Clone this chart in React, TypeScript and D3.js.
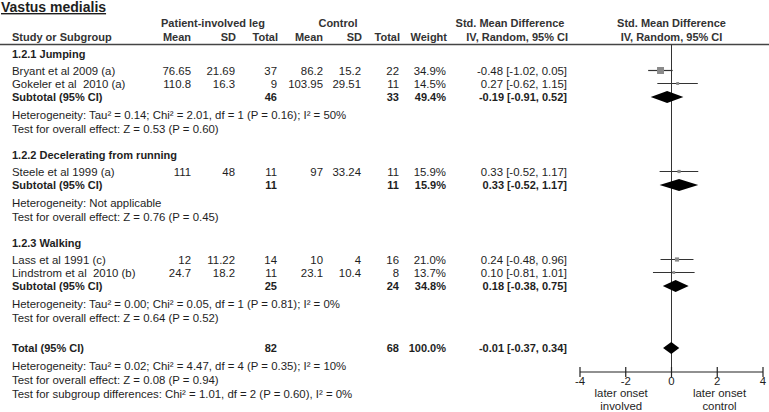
import React from "react";
import * as d3 from "d3";

// ---- data ----
const groupLabels = ["1.2.1 Jumping", "1.2.2 Decelerating from running", "1.2.3 Walking"];

const studyNames = [
  "Bryant et al 2009 (a)",
  "Gokeler et al  2010 (a)",
  "Steele et al 1999 (a)",
  "Lass et al 1991 (c)",
  "Lindstrom et al  2010 (b)",
];
const studyGroup = [0, 0, 1, 2, 2];
const invMean = [76.65, 110.8, 111, 12, 24.7];
const invSd = [21.69, 16.3, 48, 11.22, 18.2];
const invN = [37, 9, 11, 14, 11];
const ctlMean = [86.2, 103.95, 97, 10, 23.1];
const ctlSd = [15.2, 29.51, 33.24, 4, 10.4];
const ctlN = [22, 11, 11, 16, 8];
const studyWeight = [34.9, 14.5, 15.9, 21.0, 13.7];
const studySmd = [-0.48, 0.27, 0.33, 0.24, 0.1];
const studyLo = [-1.02, -0.62, -0.52, -0.48, -0.81];
const studyHi = [0.05, 1.15, 1.17, 0.96, 1.01];

const subInvN = [46, 11, 25];
const subCtlN = [33, 11, 24];
const subWeight = [49.4, 15.9, 34.8];
const subSmd = [-0.19, 0.33, 0.18];
const subLo = [-0.91, -0.52, -0.38];
const subHi = [0.52, 1.17, 0.75];
const subHet = [
  "Heterogeneity: Tau\u00b2 = 0.14; Chi\u00b2 = 2.01, df = 1 (P = 0.16); I\u00b2 = 50%",
  "Heterogeneity: Not applicable",
  "Heterogeneity: Tau\u00b2 = 0.00; Chi\u00b2 = 0.05, df = 1 (P = 0.81); I\u00b2 = 0%",
];
const subTest = [
  "Test for overall effect: Z = 0.53 (P = 0.60)",
  "Test for overall effect: Z = 0.76 (P = 0.45)",
  "Test for overall effect: Z = 0.64 (P = 0.52)",
];

const totalInvN = 82;
const totalCtlN = 68;
const totalWeight = 100.0;
const totalSmd = -0.01;
const totalLo = -0.37;
const totalHi = 0.34;
const totalNotes = [
  "Heterogeneity: Tau\u00b2 = 0.02; Chi\u00b2 = 4.47, df = 4 (P = 0.35); I\u00b2 = 10%",
  "Test for overall effect: Z = 0.08 (P = 0.94)",
  "Test for subgroup differences: Chi\u00b2 = 1.01, df = 2 (P = 0.60), I\u00b2 = 0%",
];

const axisTicks = [-4, -2, 0, 2, 4];
const favourLeft = ["later onset", "involved"];
const favourRight = ["later onset", "control"];

// ---- layout ----
const W = 769;
const H = 412;
const FONT = "'Liberation Sans', Arial, sans-serif";
const TXT = "#1e1e1e";

const x = d3.scaleLinear().domain([-4, 4]).range([580, 763]);
const boxSize = d3.scaleLinear().domain([0, 100]).range([0, 20]);
// RevMan prints a plain hyphen, not the unicode minus
const loc = d3.formatLocale({ decimal: ".", thousands: ",", grouping: [3], currency: ["", ""], minus: "-" });
const f2 = loc.format(".2f");
const f1 = loc.format(".1f");
const ci = (m: number, l: number, h: number) => `${f2(m)} [${f2(l)}, ${f2(h)}]`;

// gap (px) before each row kind
const gapBefore: Record<string, number> = {
  group: 26, study: 13, firstStudy: 17, subtotal: 13, het: 18, test: 14, total: 30, note: 14,
};

type Row = { kind: string; i?: number; text?: string; y?: number };
const rows: Row[] = [];
groupLabels.forEach((g, gi) => {
  rows.push({ kind: "group", text: g, i: gi });
  studyGroup.forEach((sg, si) => {
    if (sg === gi) rows.push({ kind: "study", i: si });
  });
  rows.push({ kind: "subtotal", i: gi });
  rows.push({ kind: "het", text: subHet[gi] });
  rows.push({ kind: "test", text: subTest[gi] });
});
rows.push({ kind: "total" });
totalNotes.forEach((t, k) => rows.push({ kind: k === 0 ? "het" : "note", text: t }));

const lineY = 44.5;
let cur = lineY;
rows.forEach((r, k) => {
  let g = gapBefore[r.kind];
  if (k === 0) g = 13;
  else if (r.kind === "study" && rows[k - 1].kind === "group") g = gapBefore.firstStudy;
  else if (r.kind === "het" && rows[k - 1].kind === "total") g = gapBefore.het;
  cur += g;
  r.y = cur;
});

const axisY = 372;

const col = { mean1: 191, sd1: 235, n1: 277, mean2: 323, sd2: 361, n2: 399, w: 446, ci: 567 };

function Num({ x: xx, y, v, bold }: { x: number; y: number; v: string; bold?: boolean }) {
  return (
    <text x={xx} y={y} textAnchor="end" fontWeight={bold ? "bold" : "normal"} fontSize={bold ? 11 : 11.4}>
      {v}
    </text>
  );
}

function Diamond({ y, m, l, h }: { y: number; m: number; l: number; h: number }) {
  const pts = [
    [x(l), y],
    [x(m), y - 6],
    [x(h), y],
    [x(m), y + 6],
  ];
  return <polygon points={pts.map((p) => p.join(",")).join(" ")} fill="#000" />;
}

export default function App() {
  return (
    <svg
      width={W}
      height={H}
      style={{ position: "absolute", left: 0, top: 0, background: "#fff" }}
      xmlSpace="preserve"
      fontFamily={FONT}
      fontSize={11.4}
      fill={TXT}
    >
      <text x={1} y={12} fontSize={14} fontWeight="bold" textDecoration="underline">
        Vastus medialis
      </text>

      {/* headers */}
      <g fontWeight="bold" fill="#333" fontSize={11}>
        <text x={213} y={27} textAnchor="middle">Patient-involved leg</text>
        <text x={338} y={27} textAnchor="middle">Control</text>
        <text x={510} y={27} textAnchor="middle">Std. Mean Difference</text>
        <text x={x(0)} y={27} textAnchor="middle">Std. Mean Difference</text>
        <text x={12} y={41}>Study or Subgroup</text>
        <text x={col.mean1} y={41} textAnchor="end">Mean</text>
        <text x={col.sd1 + 1} y={41} textAnchor="end">SD</text>
        <text x={col.n1 + 1} y={41} textAnchor="end">Total</text>
        <text x={col.mean2} y={41} textAnchor="end">Mean</text>
        <text x={col.sd2 + 1} y={41} textAnchor="end">SD</text>
        <text x={col.n2 + 1} y={41} textAnchor="end">Total</text>
        <text x={col.w + 1} y={41} textAnchor="end">Weight</text>
        <text x={col.ci + 1} y={41} textAnchor="end">IV, Random, 95% CI</text>
        <text x={x(0)} y={41} textAnchor="middle">IV, Random, 95% CI</text>
      </g>
      <line x1={0} x2={W} y1={lineY} y2={lineY} stroke="#444" strokeWidth={1.5} />

      {/* null line */}
      <line x1={x(0)} x2={x(0)} y1={lineY} y2={axisY} stroke="#333" strokeWidth={1} />

      {rows.map((r, k) => {
        const y = r.y as number;
        if (r.kind === "group")
          return (
            <text key={k} x={12} y={y} fontWeight="bold" fontSize={11}>{r.text}</text>
          );
        if (r.kind === "het" || r.kind === "test" || r.kind === "note")
          return (
            <text key={k} x={12} y={y}>{r.text}</text>
          );
        if (r.kind === "study") {
          const i = r.i as number;
          const s = boxSize(studyWeight[i]);
          const cy = y - 4;
          return (
            <g key={k}>
              <text x={12} y={y} xmlSpace="preserve">{studyNames[i]}</text>
              <Num x={col.mean1} y={y} v={String(invMean[i])} />
              <Num x={col.sd1} y={y} v={String(invSd[i])} />
              <Num x={col.n1} y={y} v={String(invN[i])} />
              <Num x={col.mean2} y={y} v={String(ctlMean[i])} />
              <Num x={col.sd2} y={y} v={String(ctlSd[i])} />
              <Num x={col.n2} y={y} v={String(ctlN[i])} />
              <Num x={col.w} y={y} v={f1(studyWeight[i]) + "%"} />
              <Num x={col.ci} y={y} v={ci(studySmd[i], studyLo[i], studyHi[i])} />
              <line x1={x(studyLo[i])} x2={x(studyHi[i])} y1={cy} y2={cy} stroke="#333" strokeWidth={1.2} />
              <rect x={x(studySmd[i]) - s / 2} y={cy - s / 2} width={s} height={s} fill="#8a8a8a" />
            </g>
          );
        }
        if (r.kind === "subtotal") {
          const i = r.i as number;
          return (
            <g key={k} fontWeight="bold" fontSize={11}>
              <text x={12} y={y}>Subtotal (95% CI)</text>
              <Num x={col.n1} y={y} v={String(subInvN[i])} bold />
              <Num x={col.n2} y={y} v={String(subCtlN[i])} bold />
              <Num x={col.w} y={y} v={f1(subWeight[i]) + "%"} bold />
              <Num x={col.ci} y={y} v={ci(subSmd[i], subLo[i], subHi[i])} bold />
              <Diamond y={y - 3.5} m={subSmd[i]} l={subLo[i]} h={subHi[i]} />
            </g>
          );
        }
        if (r.kind === "total")
          return (
            <g key={k} fontWeight="bold" fontSize={11}>
              <text x={12} y={y}>Total (95% CI)</text>
              <Num x={col.n1} y={y} v={String(totalInvN)} bold />
              <Num x={col.n2} y={y} v={String(totalCtlN)} bold />
              <Num x={col.w} y={y} v={f1(totalWeight) + "%"} bold />
              <Num x={col.ci} y={y} v={ci(totalSmd, totalLo, totalHi)} bold />
              <Diamond y={y - 3.5} m={totalSmd} l={totalLo} h={totalHi} />
            </g>
          );
        return null;
      })}

      {/* axis */}
      <line x1={x(-4)} x2={x(4)} y1={axisY} y2={axisY} stroke="#222" strokeWidth={1.2} />
      {axisTicks.map((t) => (
        <g key={t}>
          <line x1={x(t)} x2={x(t)} y1={axisY - 5} y2={axisY + 5} stroke="#222" strokeWidth={1.2} />
          <text x={x(t)} y={axisY + 13} textAnchor="middle">{t}</text>
        </g>
      ))}
      {favourLeft.map((t, k) => (
        <text key={"l" + k} x={x(-2.2)} y={axisY + 25 + k * 13} textAnchor="middle">{t}</text>
      ))}
      {favourRight.map((t, k) => (
        <text key={"r" + k} x={x(2.1)} y={axisY + 25 + k * 13} textAnchor="middle">{t}</text>
      ))}
    </svg>
  );
}
